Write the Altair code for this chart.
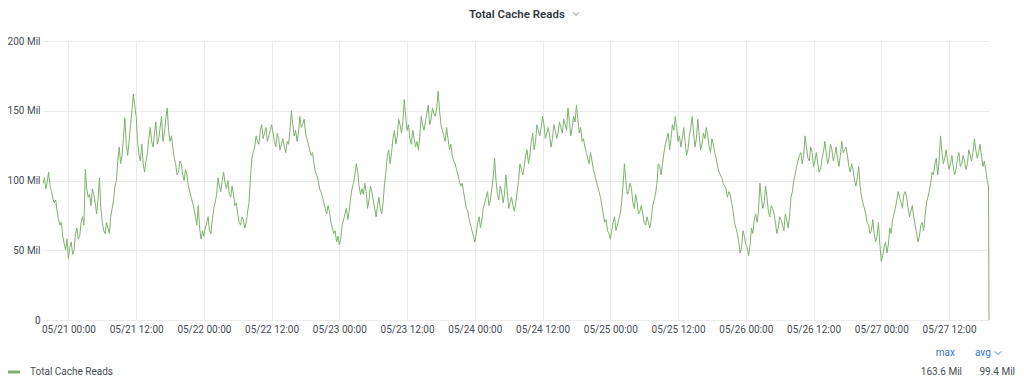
import altair as alt
import pandas as pd

# Total cache reads, in millions.
# seg_*: one value every 30 minutes from 05/20 19:30; mid_*: the value 15 minutes after each of them
seg_a = [98, 94, 106, 92, 84, 78, 68, 60, 50, 44, 56, 50, 66, 60, 74, 108, 88, 82, 90, 76,
         102, 70, 62, 66, 74, 86, 100, 124, 118, 145, 118, 140, 162, 146, 118, 126, 106, 120,
         138, 124, 142, 130, 146, 134, 152, 128, 124, 112, 106, 112, 100, 104, 92, 84, 74, 82, 58]
mid_a = [102, 99, 96, 87, 86, 72, 70, 55, 58, 52, 47, 62, 58, 70, 68, 94, 90, 94, 84, 86,
         80, 64, 70, 62, 80, 96, 114, 112, 130, 126, 128, 150, 154, 128, 114, 112, 114, 130,
         128, 134, 126, 138, 128, 144, 136, 132, 116, 104, 114, 104, 108, 96, 88, 80, 68, 66, 64]
seg_b = [60, 70, 64, 72, 84, 102, 92, 106, 94, 90, 96, 82, 76, 68, 72, 70, 84, 116, 124, 128,
         136, 130, 138, 132, 140, 128, 134, 122, 130, 120, 126, 150, 132, 128, 146, 140, 134,
         126, 118, 112, 104, 94, 88, 80, 82, 70, 62, 56, 54, 68, 76, 72, 88, 98, 112, 96]
mid_b = [66, 74, 62, 80, 90, 96, 100, 98, 100, 88, 90, 84, 70, 74, 66, 78, 102, 120, 132, 126,
         140, 134, 128, 136, 134, 124, 130, 126, 124, 128, 136, 140, 136, 134, 138, 144, 130,
         122, 120, 106, 100, 92, 84, 76, 78, 66, 64, 60, 58, 72, 80, 78, 94, 104, 106, 90]
seg_c = [94, 98, 80, 96, 86, 74, 88, 76, 98, 118, 112, 130, 126, 144, 134, 158, 136, 130, 136,
         124, 122, 146, 136, 148, 140, 152, 146, 164, 140, 132, 138, 122, 118, 112, 104, 96, 92,
         80, 72, 64, 56, 70, 66, 80, 88, 82, 94, 116, 90, 96, 84, 104, 80, 88, 78, 92, 112]
mid_c = [90, 92, 86, 92, 80, 82, 80, 84, 106, 122, 120, 136, 132, 140, 142, 146, 140, 126, 130,
         128, 132, 140, 142, 154, 144, 148, 152, 150, 136, 128, 130, 126, 114, 108, 100, 98, 86,
         78, 68, 60, 62, 74, 72, 84, 92, 86, 102, 100, 86, 92, 90, 92, 84, 82, 84, 100, 108]
seg_d = [104, 118, 112, 128, 122, 140, 132, 146, 130, 138, 124, 140, 130, 142, 134, 140, 152,
         132, 146, 154, 134, 128, 124, 116, 120, 108, 100, 92, 82, 70, 64, 58, 70, 64, 72, 84,
         112, 90, 98, 84, 90, 76, 82, 70, 74, 66, 82, 90, 112, 104, 120, 130, 122, 140, 146, 128]
mid_d = [110, 122, 118, 134, 128, 136, 138, 140, 134, 132, 130, 136, 134, 138, 144, 136, 142,
         138, 142, 144, 138, 130, 120, 112, 114, 104, 96, 88, 76, 72, 62, 64, 74, 68, 76, 96,
         100, 92, 94, 80, 84, 78, 76, 68, 70, 72, 86, 98, 110, 112, 126, 134, 130, 136, 138, 132]
seg_e = [124, 138, 118, 132, 146, 124, 144, 122, 134, 138, 124, 130, 120, 110, 104, 98, 94, 92,
         84, 70, 62, 48, 64, 54, 46, 66, 72, 70, 98, 80, 96, 78, 82, 76, 62, 74, 68, 76, 66, 88,
         100, 110, 118, 112, 132, 116, 124, 110, 120, 106, 116, 128, 112, 126, 114, 124, 110]
mid_e = [130, 128, 122, 138, 134, 130, 132, 126, 130, 132, 120, 126, 116, 106, 102, 96, 88, 90,
         78, 66, 56, 52, 60, 52, 54, 62, 76, 78, 88, 84, 88, 74, 80, 70, 66, 72, 64, 72, 74, 92,
         104, 114, 120, 118, 124, 114, 120, 114, 112, 108, 120, 120, 116, 122, 118, 116, 118]
seg_f = [128, 122, 118, 106, 108, 96, 110, 88, 80, 70, 62, 72, 56, 70, 42, 52, 48, 66, 72, 80,
         92, 84, 90, 88, 74, 82, 68, 56, 68, 64, 84, 92, 106, 112, 104, 132, 112, 122, 108, 118,
         104, 116, 110, 118, 108, 122, 114, 130, 116, 126, 110, 108, 96]
mid_f = [120, 124, 110, 112, 100, 102, 96, 84, 76, 68, 64, 62, 60, 54, 46, 56, 54, 62, 76, 86,
         88, 80, 92, 80, 78, 74, 62, 60, 70, 74, 88, 98, 104, 116, 114, 120, 116, 114, 112, 110,
         108, 120, 112, 114, 112, 118, 120, 122, 120, 118, 114, 100]
final_value = [0]  # drop at 05/27 19:05

y_ticks = [0, 50, 100, 150, 200]
x_tick_days = [21, 21, 22, 22, 23, 23, 24, 24, 25, 25, 26, 26, 27, 27]
x_tick_hours = [0, 12, 0, 12, 0, 12, 0, 12, 0, 12, 0, 12, 0, 12]

title_text = "Total Cache Reads"
legend_name = "Total Cache Reads"
stat_names = ["max", "avg"]
stat_values = ["163.6 Mil", "99.4 Mil"]

values = []
for s, m in [(seg_a, mid_a), (seg_b, mid_b), (seg_c, mid_c), (seg_d, mid_d), (seg_e, mid_e), (seg_f, mid_f)]:
    for i, v in enumerate(s):
        values.append(v)
        if i < len(m):
            values.append(m[i])
start = pd.Timestamp("2023-05-20 19:30")
times = [start + pd.Timedelta(minutes=15 * i) for i in range(len(values))]
times.append(pd.Timestamp("2023-05-27 19:05"))
values = values + final_value
df = pd.DataFrame({"time": [t.strftime("%Y-%m-%dT%H:%M:%S") for t in times], "reads": values})

GREEN = "#7eb26d"
TEXT = "#464c54"
BLUE = "#3274d9"
FONT = "Roboto"
GRID = "#ebebeb"

x_values = [alt.DateTime(year=2023, month=5, date=d, hours=h) for d, h in zip(x_tick_days, x_tick_hours)]

line = alt.Chart(df).mark_line(color=GREEN, strokeWidth=1).encode(
    x=alt.X("time:T",
            scale=alt.Scale(domain=[alt.DateTime(year=2023, month=5, date=20, hours=19, minutes=30),
                                    alt.DateTime(year=2023, month=5, date=27, hours=19, minutes=5)]),
            axis=alt.Axis(values=x_values, format="%m/%d %H:%M", title=None, labelPadding=4,
                          tickSize=0, ticks=False, domain=False, grid=True, labelFont=FONT,
                          labelFontSize=10, labelColor=TEXT, gridColor=GRID, labelFlush=False)),
    y=alt.Y("reads:Q",
            scale=alt.Scale(domain=[0, 200], nice=False),
            axis=alt.Axis(values=y_ticks, title=None, labelPadding=3, tickSize=0, ticks=False,
                          domain=False, grid=True, gridColor=GRID, labelFont=FONT,
                          labelFontSize=10, labelColor=TEXT,
                          labelExpr="datum.value == 0 ? '0' : datum.value + ' Mil'")),
)

one = alt.Data(values=[{}])


def label(txt, x, y, align="left", color=TEXT, size=10, weight="normal"):
    return alt.Chart(one).mark_text(text=txt, align=align, baseline="middle", color=color,
                                    fontSize=size, fontWeight=weight, font=FONT).encode(
        x=alt.value(x), y=alt.value(y))


def chevron(cx, cy, color):
    left = alt.Chart(one).mark_rule(color=color, strokeWidth=1).encode(
        x=alt.value(cx - 3), y=alt.value(cy - 1.5), x2=alt.value(cx), y2=alt.value(cy + 1.5))
    right = alt.Chart(one).mark_rule(color=color, strokeWidth=1).encode(
        x=alt.value(cx), y=alt.value(cy + 1.5), x2=alt.value(cx + 3), y2=alt.value(cy - 1.5))
    return left + right


title = label(title_text, 426, -26, size=11.5, weight=600, color="#333940")
title_chev = chevron(533, -27, "#7b8087")

icon = alt.Chart(one).mark_rule(color=GREEN, strokeWidth=3).encode(
    x=alt.value(-35), x2=alt.value(-23), y=alt.value(331))
leg = label(legend_name, -13, 331)
max_lbl = label(stat_names[0], 912, 312, align="right", color=BLUE)
avg_lbl = label(stat_names[1], 932, 312, color=BLUE)
avg_chev = chevron(955, 312, BLUE)
max_val = label(stat_values[0], 919, 331, align="right")
avg_val = label(stat_values[1], 972, 331, align="right")

chart = alt.layer(line, title, title_chev, icon, leg, max_lbl, avg_lbl, avg_chev, max_val, avg_val).properties(
    width=946, height=279,
    autosize="none",
    padding={"left": 35, "top": 33, "right": 27, "bottom": 60},
).configure_view(stroke=None)

chart.save("out.html", embed_options={"renderer": "svg", "actions": False})
